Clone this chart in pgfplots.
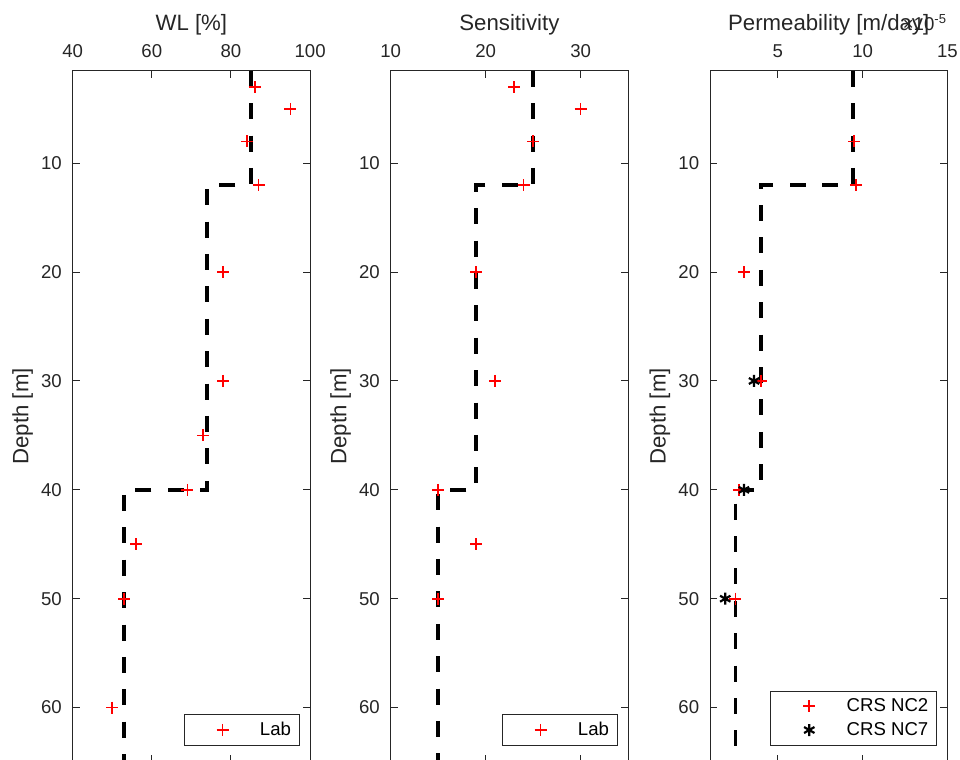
\documentclass[border=0pt]{standalone}
\usepackage{fontspec}
\setmainfont{Liberation Sans}
\usepackage{pgfplots}
\pgfplotsset{compat=1.18}

\definecolor{axgray}{gray}{0.15}
\newcommand{\lbl}{\fontsize{9.3pt}{11pt}\selectfont}
\newcommand{\ttl}{\fontsize{11.1pt}{13pt}\selectfont}

\pgfplotsset{
  depthpanel/.style={
    scale only axis, width=118.7pt, height=345.65pt,
    anchor=north west,
    y dir=reverse, ymin=1.5, ymax=65,
    ytick={10,20,...,60},
    axis line style={axgray, line width=0.5pt},
    every tick/.style={axgray, line width=0.5pt},
    major tick length=3.7pt,
    tick align=inside,
    xticklabel pos=upper, xtick pos=both,
    yticklabel pos=lower, ytick pos=both,
    tick label style={font=\lbl, text=axgray},
    xticklabel style={yshift=3.1pt},
    yticklabel style={xshift=-1.9pt},
    /pgf/number format/assume math mode=true,
    ylabel={Depth [m]},
    ylabel style={font=\ttl, text=axgray, at={([xshift=-25pt]rel axis cs:0,0.5)}, anchor=center},
    every axis title shift=0pt,
    title style={font=\ttl, text=axgray, at={(0.5,1)}, anchor=base, yshift=20pt},
    legend style={at={(0.955,0.024)}, anchor=south east, draw=axgray, line width=0.4pt,
      font=\lbl, inner xsep=2pt, inner ysep=1.5pt, cells={anchor=west}},
  },
  lgimg/.style={legend image code/.code={\path (0pt,0pt) (33.5pt,0pt); \draw[##1] plot coordinates {(17pt,0pt)};}},
  steps/.style={black, line width=1.8pt, dash pattern=on 8pt off 8.2pt},
  labpts/.style={only marks, mark=+, color=red, mark size=3pt, mark options={solid, draw=red, line width=0.8pt}, lgimg},
  nc7pts/.style={only marks, mark=asterisk, color=black, mark size=3pt, mark options={solid, draw=black, line width=1.1pt}, lgimg},
}

\begin{document}
\begin{tikzpicture}
\useasboundingbox (0pt,0pt) rectangle (480pt,-380pt);

% Liquid limit
\begin{axis}[depthpanel, at={(36.35pt,-35.35pt)},
  xmin=40, xmax=100, xtick={40,60,80,100}, title={WL [\%]}]
  \addplot[steps, forget plot] coordinates {(85,1.5) (85,12) (74,12) (74,40) (53,40) (53,66)};
  \addplot[labpts] coordinates {(86,3) (95,5) (84,8) (87,12) (78,20) (78,30) (73,35) (69,40) (56,45) (53,50) (50,60)};
  \addlegendentry{Lab}
\end{axis}

% Sensitivity
\begin{axis}[depthpanel, at={(195.35pt,-35.35pt)},
  xmin=10, xmax=35, xtick={10,20,30}, title={Sensitivity}]
  \addplot[steps, forget plot] coordinates {(25,1.5) (25,12) (19,12) (19,40) (15,40) (15,66)};
  \addplot[labpts] coordinates {(23,3) (30,5) (25,8) (24,12) (19,20) (21,30) (15,40) (19,45) (15,50)};
  \addlegendentry{Lab}
\end{axis}

% Permeability, values in units of 1e-5 m/day
\begin{axis}[depthpanel, name=perm, at={(355pt,-35.35pt)},
  xmin=1, xmax=15, xtick={5,10,15}, title={Permeability [m/day]}]
  \addplot[steps, forget plot] coordinates {(9.45,1.5) (9.45,12) (4,12) (4,40) (2.5,40) (2.5,66)};
  \addplot[labpts] coordinates {(9.5,8) (9.6,12) (3,20) (4,30) (2.7,40) (2.5,50)};
  \addlegendentry{CRS NC2}
  \addplot[nc7pts] coordinates {(3.6,30) (3.0,40) (1.9,50)};
  \addlegendentry{CRS NC7}
\end{axis}
\node[anchor=base east, font=\lbl, text=axgray, yshift=20pt, inner sep=0pt] at (perm.north east) {×10\textsuperscript{-5}};
\end{tikzpicture}
\end{document}
